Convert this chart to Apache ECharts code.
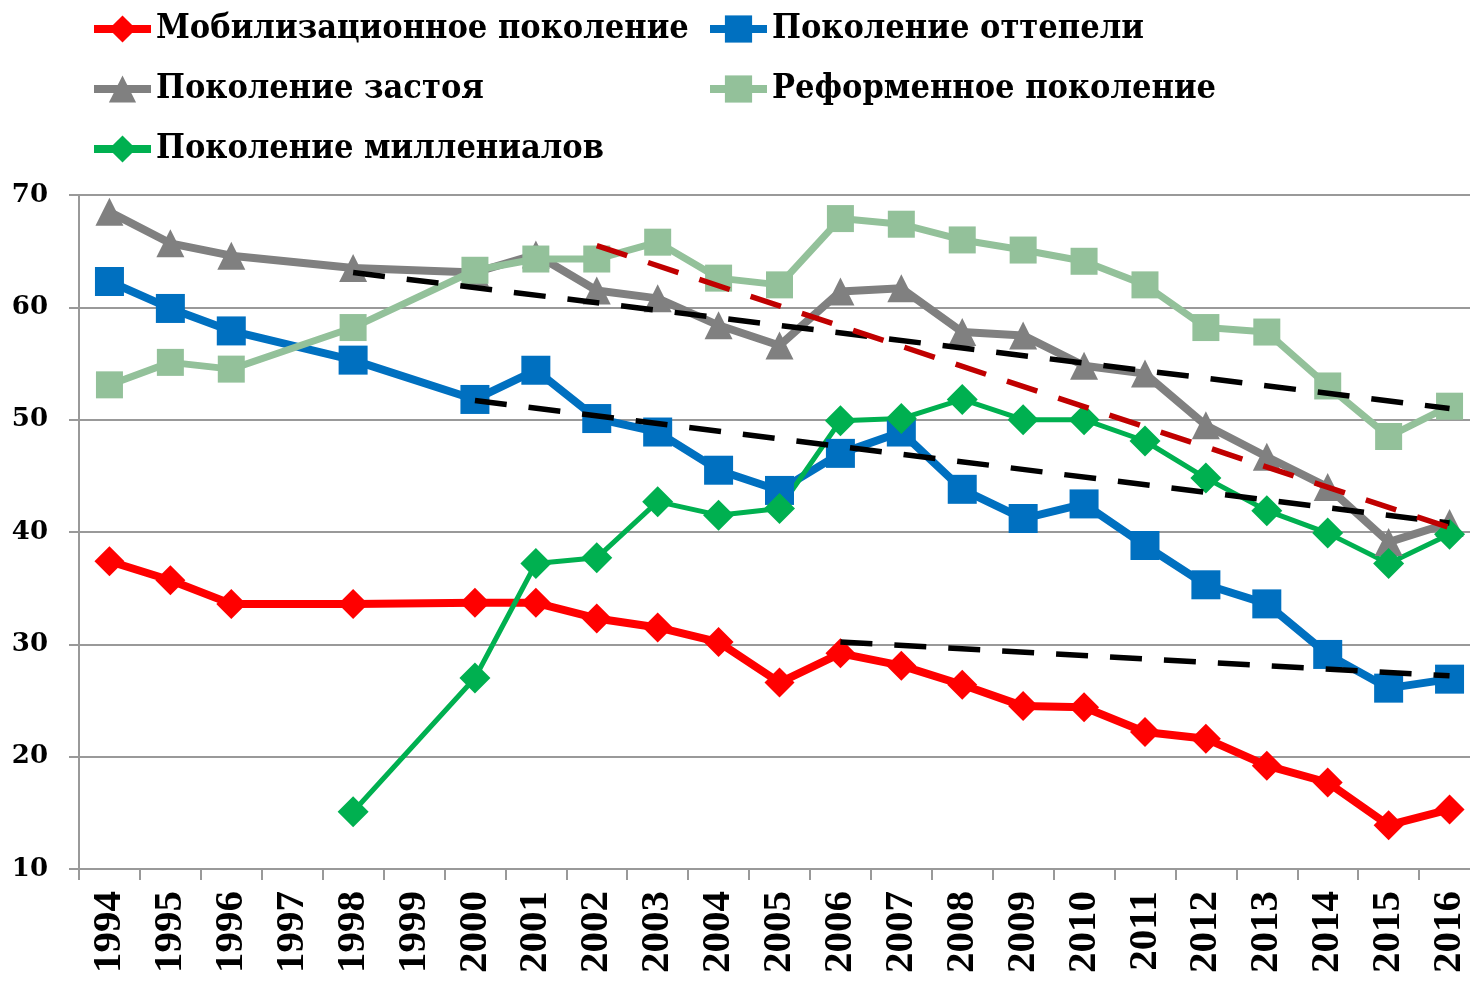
<!DOCTYPE html>
<html><head><meta charset="utf-8">
<script src="https://cdn.jsdelivr.net/npm/echarts@6/dist/echarts.min.js"></script>
<style>html,body{margin:0;padding:0;background:#fff}#c{width:1470px;height:983px}</style>
</head><body><div id="c"></div>
<script>
const years = ['1994','1995','1996','1997','1998','1999','2000','2001','2002','2003','2004','2005','2006','2007','2008','2009','2010','2011','2012','2013','2014','2015','2016'];
const mobilization = [37.4,35.7,33.6,null,33.6,null,33.7,33.7,32.3,31.5,30.2,26.6,29.2,28.1,26.4,24.5,24.4,22.2,21.6,19.2,17.7,13.9,15.3];
const thaw = [62.3,59.9,57.9,null,55.3,null,51.8,54.4,50.1,48.9,45.5,43.7,47.0,48.9,43.8,41.2,42.5,38.8,35.3,33.6,29.1,26.1,26.9];
const stagnation = [68.5,65.7,64.6,null,63.5,null,63.1,64.7,61.5,60.8,58.4,56.6,61.4,61.7,57.8,57.5,54.8,54.1,49.5,46.7,44.0,39.1,40.8];
const reform = [53.1,55.1,54.5,null,58.2,null,63.3,64.3,64.3,65.8,62.6,62.0,67.9,67.4,66.0,65.1,64.1,62.0,58.2,57.8,53.0,48.5,51.2];
const millennials = [null,null,null,null,15.1,null,27.0,37.2,37.7,42.7,41.5,42.1,49.9,50.1,51.8,50.0,50.0,48.1,44.8,41.9,39.9,37.2,39.8];
// trend line endpoints [category, value]
const trendStagnation = [['1998',63.1],['2016',51.0]];
const trendThaw = [['2000',51.7],['2016',40.8]];
const trendMobilization = [['2006',30.2],['2016',27.2]];
const trendReform = [['2002',65.5],['2016',40.4]];
const yTicks = [10,20,30,40,50,60,70];

const names = ['Мобилизационное поколение','Поколение оттепели','Поколение застоя','Реформенное поколение','Поколение миллениалов'];
const chart = echarts.init(document.getElementById('c'));
const legendText = {fontFamily:"'DejaVu Serif Condensed','DejaVu Serif'",fontWeight:'bold',fontSize:34,color:'#000'};
function lg(name,left,top){return {data:[name],left:left,top:top,padding:0,itemWidth:57,itemHeight:34,itemGap:0,
  textStyle:legendText,selectedMode:false,lineStyle:{width:8}};}
function ser(name,data,color,symbol,size,width){
  return {name:name,type:'line',data:data,connectNulls:true,symbol:symbol,symbolSize:size,
    lineStyle:{color:color,width:width},itemStyle:{color:color},emphasis:{disabled:true},animation:false};
}
function trend(data,color){
  return {type:'line',data:data,symbol:'none',lineStyle:{color:color,width:5.5,type:[32,22]},emphasis:{disabled:true},animation:false,silent:true,z:5};
}
chart.setOption({
  animation:false,
  legend:[lg(names[0],90,12),lg(names[1],706,12),lg(names[2],90,72),lg(names[3],706,72),lg(names[4],90,132)],
  grid:{left:79,top:195,width:1401,height:674,containLabel:false,outerBoundsMode:'none'},
  xAxis:{type:'category',data:years,boundaryGap:true,
    axisLine:{lineStyle:{color:'#999',width:2}},
    axisTick:{show:true,length:11,lineStyle:{color:'#999',width:2}},
    axisLabel:{rotate:90,margin:22,interval:0,fontFamily:'Liberation Serif',fontWeight:'bold',fontSize:41,color:'#000'}},
  yAxis:{type:'value',min:10,max:70,interval:10,
    axisLine:{show:true,lineStyle:{color:'#999',width:2}},
    axisTick:{show:true,length:10,lineStyle:{color:'#999',width:2}},
    splitLine:{lineStyle:{color:'#999',width:2}},
    axisLabel:{margin:31,fontFamily:'DejaVu Serif',fontWeight:'bold',fontSize:26,color:'#000',
      formatter:function(v){return yTicks.indexOf(v)>=0?String(v):'';}}},
  series:[
    ser(names[0],mobilization,'#FF0000','diamond',30,8),
    ser(names[1],thaw,'#0070C0','rect',29,8),
    ser(names[2],stagnation,'#808080','triangle',28,8),
    ser(names[3],reform,'#93C19A','rect',27,7),
    ser(names[4],millennials,'#00B050','diamond',31,5),
    trend(trendStagnation,'#000'),
    trend(trendThaw,'#000'),
    trend(trendMobilization,'#000'),
    trend(trendReform,'#C00000')
  ]
});
</script></body></html>
